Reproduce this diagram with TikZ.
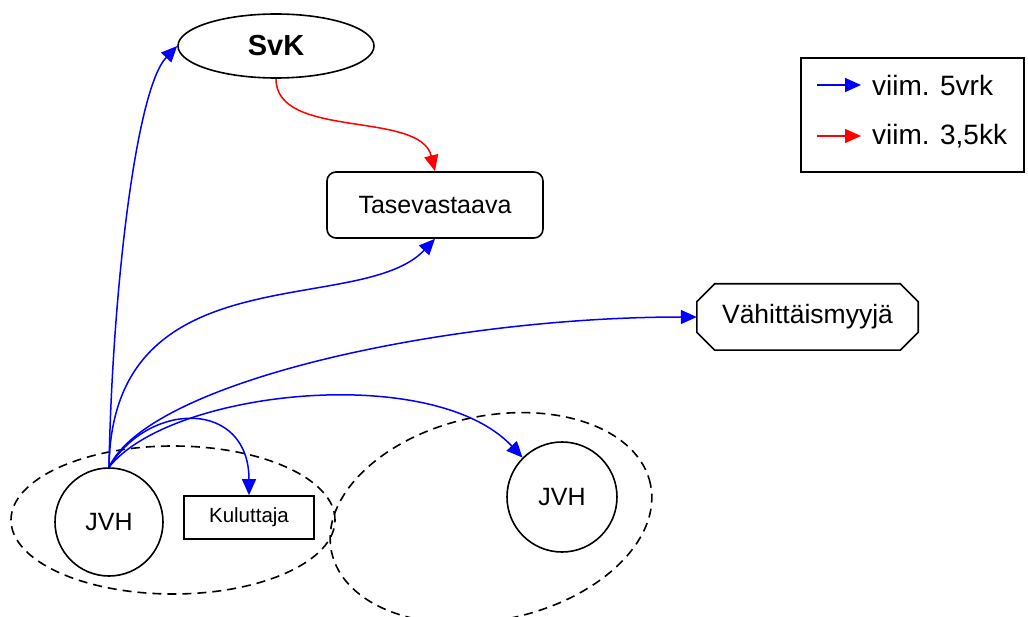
\documentclass[tikz,border=0pt]{standalone}
\usepackage{fontspec}
\setmainfont{Liberation Sans}
\usetikzlibrary{arrows.meta,calc,shapes.geometric}
\begin{document}
\begin{tikzpicture}[x=1pt,y=-1pt,
  outline/.style={draw=black,line width=1.6pt},
  blueconn/.style={draw=blue,line width=1.5pt,-{Triangle[length=16pt,width=14pt]}},
  redconn/.style={draw=red,line width=1.5pt,-{Triangle[length=16pt,width=14pt]}},
  groupring/.style={ellipse,draw=black,line width=1.6pt,dash pattern=on 9pt off 6pt,inner sep=0pt},
  jvhnode/.style={circle,outline,inner sep=0pt,font=\fontsize{25}{30}\selectfont},
  legtext/.style={anchor=west,inner sep=0pt,font=\fontsize{28}{33}\selectfont}
]
\useasboundingbox (0,0) rectangle (1028,617);

% groups
\node[groupring,minimum width=324pt,minimum height=148pt] (g1) at (173,520) {};
\node[groupring,minimum width=326pt,minimum height=204pt,rotate=12] (g2) at (491,518) {};

% nodes
\node[ellipse,outline,minimum width=196pt,minimum height=64pt,inner sep=0pt,
      font=\fontsize{29}{34}\selectfont\bfseries] (svk) at (276,46) {SvK};
\node[outline,rounded corners=9pt,minimum width=216pt,minimum height=66pt,inner sep=0pt,
      font=\fontsize{25}{30}\selectfont] (tase) at (435,205) {Tasevastaava};
\node[minimum width=221pt,minimum height=66pt,inner sep=0pt,
      font=\fontsize{26.5}{31}\selectfont] (vah) at (807.5,317) {Vähittäismyyjä};
\draw[outline] ($(vah.north west)+(18,0)$) -- ($(vah.north east)+(-18,0)$)
  -- ($(vah.north east)+(0,18)$) -- ($(vah.south east)+(0,-18)$)
  -- ($(vah.south east)+(-18,0)$) -- ($(vah.south west)+(18,0)$)
  -- ($(vah.south west)+(0,-18)$) -- ($(vah.north west)+(0,18)$) -- cycle;
\node[jvhnode,minimum size=108pt] (jvh1) at (109,522) {JVH};
\node[jvhnode,minimum size=110pt] (jvh2) at (562,497) {JVH};
\node[outline,minimum width=130pt,minimum height=43pt,inner sep=0pt,
      font=\fontsize{20.5}{25}\selectfont] (kul) at (249,517.5) {Kuluttaja};

% connectors
\draw[blueconn] (jvh1.north) .. controls (112,300) and (135,90) .. (svk.west);
\draw[blueconn] (jvh1.north) .. controls (112,250) and (360,318) .. (tase.south);
\draw[blueconn] (jvh1.north) .. controls (150,380) and (450,317) .. (vah.west);
\draw[blueconn] (jvh1.north) .. controls (170,390) and (433,362) .. (jvh2.north west);
\draw[blueconn] (jvh1.north) .. controls (150,400) and (249,400) .. (kul.north);
\draw[redconn] (svk.south) .. controls (276,140) and (420,110) .. (tase.north);

% legend
\node[outline,minimum width=223pt,minimum height=114pt,inner sep=0pt] (legend) at (912.5,115) {};
\coordinate (lb1) at (817,85);
\coordinate (le1) at (861,85);
\coordinate (lb2) at (817,136);
\coordinate (le2) at (861,136);
\draw[blueconn] (lb1) -- (le1);
\draw[redconn] (lb2) -- (le2);
\node[legtext] (lt1) at (872,85) {viim. 5vrk};
\node[legtext] (lt2) at (872,136) {viim. 3,5kk};
\end{tikzpicture}
\end{document}
